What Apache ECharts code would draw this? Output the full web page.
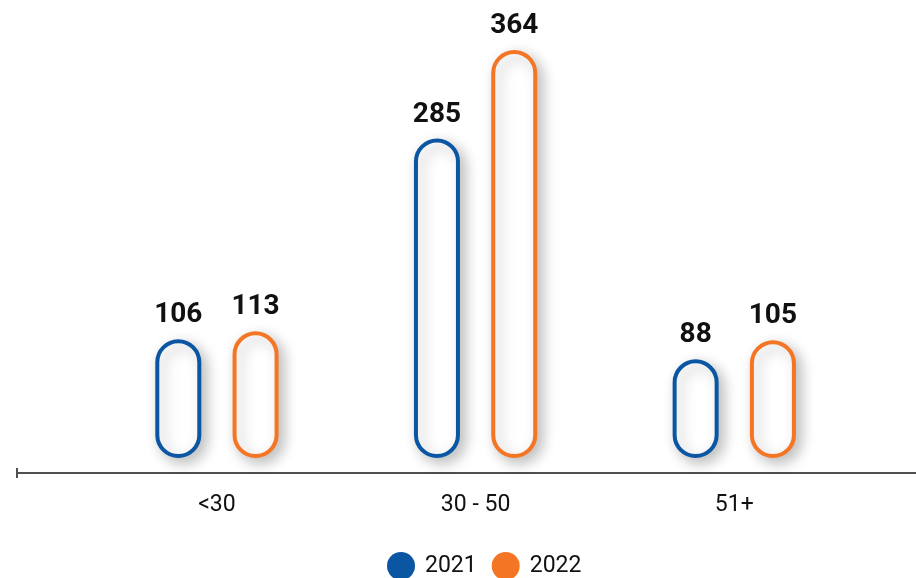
<!DOCTYPE html>
<html>
<head>
<meta charset="utf-8">
<script src="https://cdn.jsdelivr.net/npm/echarts@6/dist/echarts.min.js"></script>
<style>html,body{margin:0;padding:0;background:#fff;}#c{width:916px;height:578px;}</style>
</head>
<body>
<div id="c"></div>
<script>
const categories = ['<30', '30 - 50', '51+'];
const seriesNames = ['2021', '2022'];
const values2021 = [106, 285, 88];
const values2022 = [113, 364, 105];
const colors = ['#0a56a3', '#f47524'];

const chart = echarts.init(document.getElementById('c'), null, {renderer: 'canvas'});
const barStyle = (c) => ({
  color: '#ffffff',
  borderColor: c,
  borderWidth: 4,
  borderRadius: 23,
  shadowColor: 'rgba(0,0,0,0.25)',
  shadowBlur: 14,
  shadowOffsetX: 5,
  shadowOffsetY: 5
});
const labelStyle = {
  show: true,
  position: 'top',
  distance: 10,
  fontFamily: 'Roboto',
  fontWeight: 'bold',
  fontSize: 28,
  color: '#111111'
};
chart.setOption({
  animation: false,
  backgroundColor: '#ffffff',
  textStyle: {fontFamily: 'Roboto'},
  grid: [
    {left: 17, right: 0, top: 10, bottom: 105},
    {left: 87.6, right: 52.4, top: 13, bottom: 120}
  ],
  legend: {
    left: 382,
    top: 547,
    itemWidth: 28,
    itemHeight: 28,
    itemGap: 15,
    icon: 'circle',
    data: seriesNames.map((n, i) => ({name: n, itemStyle: {color: colors[i], borderWidth: 0, shadowBlur: 0, shadowOffsetX: 0, shadowOffsetY: 0}})),
    textStyle: {fontFamily: 'Roboto', fontSize: 23, color: '#111111', padding: [0, 0, 0, 5]}
  },
  xAxis: [
    {
      gridIndex: 0, type: 'value', min: 0, max: 1,
      axisLine: {show: true, symbol: ['rect', 'none'], symbolSize: [10, 2], lineStyle: {color: '#505050', width: 2}},
      axisTick: {show: false}, axisLabel: {show: false}, splitLine: {show: false}
    },
    {
      gridIndex: 1, type: 'category', data: categories,
      axisLine: {show: false}, axisTick: {show: false},
      axisLabel: {margin: 36, fontFamily: 'Roboto', fontSize: 23, color: '#111111'}
    }
  ],
  yAxis: [
    {gridIndex: 0, type: 'value', show: false, min: 0, max: 1},
    {gridIndex: 1, type: 'value', show: false, min: 0, max: 397}
  ],
  series: [
    {
      name: seriesNames[0], type: 'bar', xAxisIndex: 1, yAxisIndex: 1,
      data: values2021, barWidth: 46, barGap: '68%',
      itemStyle: barStyle(colors[0]), label: labelStyle
    },
    {
      name: seriesNames[1], type: 'bar', xAxisIndex: 1, yAxisIndex: 1,
      data: values2022, barWidth: 46, barGap: '68%',
      itemStyle: barStyle(colors[1]), label: labelStyle
    }
  ],
  color: colors
});
</script>
</body>
</html>
